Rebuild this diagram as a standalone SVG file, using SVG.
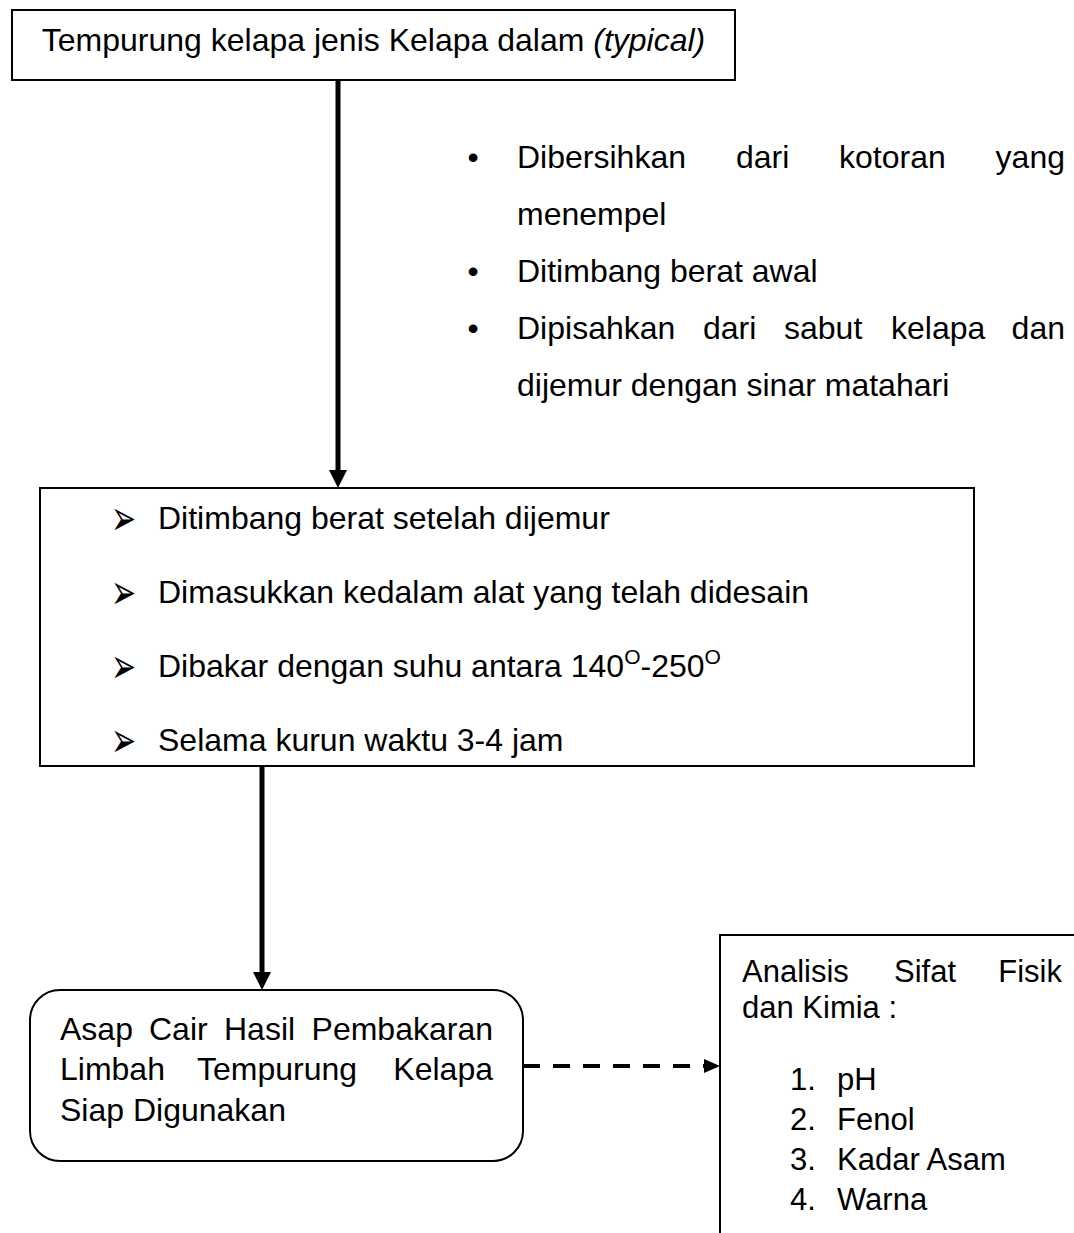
<svg xmlns="http://www.w3.org/2000/svg" width="1074" height="1233" viewBox="0 0 1074 1233">
<style>
  .box{fill:#fff;stroke:#000;stroke-width:2}
  .t{font-family:"Liberation Sans",Arial,sans-serif;font-size:32px;fill:#000}
  .t2{font-family:"Liberation Sans",Arial,sans-serif;font-size:31px;fill:#000}
  .sup{font-size:21px}
  .arr{font-family:"DejaVu Sans",sans-serif;font-size:30px;fill:#000}
  .conn{stroke:#000;fill:none}
</style>
<defs>
  <marker id="head" markerUnits="userSpaceOnUse" markerWidth="18" markerHeight="18" viewBox="0 0 18 18" refX="8" refY="9" orient="auto">
    <path d="M0,0 L18,9 L0,18 z" fill="#000"/>
  </marker>
  <marker id="headS" markerUnits="userSpaceOnUse" markerWidth="16" markerHeight="14" viewBox="0 0 16 14" refX="4" refY="7" orient="auto">
    <path d="M0,0 L16,7 L0,14 z" fill="#000"/>
  </marker>
</defs>
<rect width="1074" height="1233" fill="#fff"/>

<g id="connectors">
  <line class="conn" x1="338" y1="80" x2="338" y2="478" stroke-width="5" marker-end="url(#head)"/>
  <line class="conn" x1="262" y1="766" x2="262" y2="980" stroke-width="5" marker-end="url(#head)"/>
  <line class="conn" x1="523" y1="1066" x2="708" y2="1066" stroke-width="4" stroke-dasharray="17 13" marker-end="url(#headS)"/>
</g>

<g id="node-tempurung">
  <rect class="box" x="12" y="10" width="723" height="70"/>
  <text class="t" x="373.5" y="51" text-anchor="middle">Tempurung kelapa jenis Kelapa dalam <tspan font-style="italic">(typical)</tspan></text>
</g>

<g id="node-persiapan">
  <text class="t" x="473" y="168" text-anchor="middle">•</text>
  <text class="t" x="517" y="168">Dibersihkan</text>
  <text class="t" x="736" y="168">dari</text>
  <text class="t" x="839" y="168">kotoran</text>
  <text class="t" x="1065" y="168" text-anchor="end">yang</text>
  <text class="t" x="517" y="225">menempel</text>
  <text class="t" x="473" y="282" text-anchor="middle">•</text>
  <text class="t" x="517" y="282">Ditimbang berat awal</text>
  <text class="t" x="473" y="339" text-anchor="middle">•</text>
  <text class="t" x="517" y="339">Dipisahkan</text>
  <text class="t" x="703" y="339">dari</text>
  <text class="t" x="784" y="339">sabut</text>
  <text class="t" x="891" y="339">kelapa</text>
  <text class="t" x="1065" y="339" text-anchor="end">dan</text>
  <text class="t" x="517" y="396">dijemur dengan sinar matahari</text>
</g>

<g id="node-pembakaran">
  <rect class="box" x="40" y="488" width="934" height="278"/>
  <text class="arr" transform="translate(111,535) scale(1,1.65)">➢</text>
  <text class="t" x="158" y="529">Ditimbang berat setelah dijemur</text>
  <text class="arr" transform="translate(111,609) scale(1,1.65)">➢</text>
  <text class="t" x="158" y="603">Dimasukkan kedalam alat yang telah didesain</text>
  <text class="arr" transform="translate(111,683) scale(1,1.65)">➢</text>
  <text class="t" x="158" y="677">Dibakar dengan suhu antara 140<tspan class="sup" dy="-13">O</tspan><tspan dy="13">-250</tspan><tspan class="sup" dy="-13">O</tspan></text>
  <text class="arr" transform="translate(111,757) scale(1,1.65)">➢</text>
  <text class="t" x="158" y="751">Selama kurun waktu 3-4 jam</text>
</g>

<g id="node-asap-cair">
  <rect class="box" x="30" y="990" width="493" height="171" rx="30" ry="30"/>
  <text class="t" x="60" y="1040">Asap</text>
  <text class="t" x="149" y="1040">Cair</text>
  <text class="t" x="224" y="1040">Hasil</text>
  <text class="t" x="493" y="1040" text-anchor="end">Pembakaran</text>
  <text class="t" x="60" y="1080">Limbah</text>
  <text class="t" x="197" y="1080">Tempurung</text>
  <text class="t" x="493" y="1080" text-anchor="end">Kelapa</text>
  <text class="t" x="60" y="1121">Siap Digunakan</text>
</g>

<g id="node-analisis">
  <rect class="box" x="720" y="935" width="420" height="340"/>
  <text class="t2" x="742" y="982">Analisis</text>
  <text class="t2" x="894" y="982">Sifat</text>
  <text class="t2" x="1062" y="982" text-anchor="end">Fisik</text>
  <text class="t2" x="742" y="1018">dan Kimia :</text>
  <text class="t2" x="790" y="1090">1.</text><text class="t2" x="837" y="1090">pH</text>
  <text class="t2" x="790" y="1130">2.</text><text class="t2" x="837" y="1130">Fenol</text>
  <text class="t2" x="790" y="1170">3.</text><text class="t2" x="837" y="1170">Kadar Asam</text>
  <text class="t2" x="790" y="1210">4.</text><text class="t2" x="837" y="1210">Warna</text>
</g>
</svg>
